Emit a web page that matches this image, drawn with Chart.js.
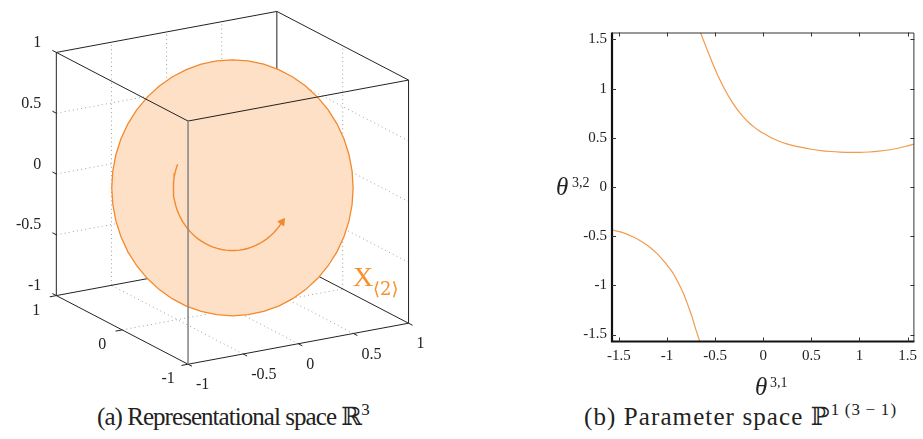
<!DOCTYPE html>
<html>
<head>
<meta charset="utf-8">
<title>Representational and parameter space</title>
<script src="https://cdn.jsdelivr.net/npm/chart.js@4.4.0/dist/chart.umd.min.js"></script>
<style>
  html, body { margin: 0; padding: 0; background: #fff; }
  #fig { position: relative; width: 923px; height: 439px; overflow: hidden;
         font-family: "Liberation Serif", "Times New Roman", Times, "DejaVu Serif", serif; color: #222; }
  #fig canvas { position: absolute; }
  #space3d { left: 0; top: 0; }
  #param { left: 540px; top: 0; }
  .txt { position: absolute; white-space: nowrap; line-height: 1; }
  .it { font-style: italic; }
  .cap { font-size: 25px; top: 404px; }
  .cap .sup { font-size: 17px; position: relative; top: -10px; }
</style>
</head>
<body>
<div id="fig">
  <canvas id="space3d" width="460" height="400"></canvas>
  <canvas id="param" width="383" height="380"></canvas>

  <!-- label of the circle in R^3 -->
  <span class="txt" style="left:353px;top:263px;font-size:28px;color:#f5902a;">X</span>
  <span class="txt" style="left:373px;top:280px;font-size:18px;color:#f5902a;font-family:'DejaVu Serif','Liberation Serif',serif;">⟨2⟩</span>

  <!-- axis titles of the parameter plot -->
  <span class="txt it" style="left:556px;top:174px;font-size:25px;">θ</span>
  <span class="txt" style="left:572px;top:176px;font-size:14px;">3,2</span>
  <span class="txt it" style="left:755px;top:374px;font-size:25px;">θ</span>
  <span class="txt" style="left:770px;top:376px;font-size:14px;">3,1</span>

  <!-- sub-figure captions -->
  <span class="txt cap" style="left:97px;letter-spacing:-0.95px;">(a) Representational space ℝ<span class="sup">3</span></span>
  <span class="txt cap" style="left:584px;letter-spacing:1.1px;">(b) Parameter space ℙ<span class="sup">1&#8201;(3&#8201;−&#8201;1)</span></span>
</div>

<script>
// ---------------------------------------------------------------
// Data
// ---------------------------------------------------------------
// (a) cube [-1,1]^3 with ticks
const xTicks3d = [-1, -0.5, 0, 0.5, 1];
const yTicks3d = [-1, 0, 1];
const zTicks3d = [-1, -0.5, 0, 0.5, 1];
const xTickLabels3d = ['-1', '-0.5', '0', '0.5', '1'];
const yTickLabels3d = ['-1', '0', '1'];
const zTickLabels3d = ['-1', '-0.5', '0', '0.5', '1'];

// the circle X<2> and the arrow showing its orientation
const discRadius = 1;
const arrowRadius = 0.49;
const arrowFromDeg = 158;
const arrowToDeg = 327;

// (b) parameter space, theta^{3,1} vs theta^{3,2}
const thetaTicks = [-1.5, -1, -0.5, 0, 0.5, 1, 1.5];
const thetaTickLabels = ['-1.5', '-1', '-0.5', '0', '0.5', '1', '1.5'];
const upperX = [-0.652, -0.60, -0.55, -0.50, -0.45, -0.40, -0.35, -0.30, -0.25, -0.20, -0.15, -0.10, -0.05,
                 0.00, 0.05, 0.10, 0.20, 0.30, 0.40, 0.50, 0.60, 0.70, 0.80, 0.90, 1.00, 1.10, 1.20, 1.30, 1.40, 1.50, 1.571];
const upperY = [ 1.571, 1.440, 1.317, 1.198, 1.091, 0.993, 0.906, 0.829, 0.763, 0.705, 0.656, 0.614, 0.578,
                 0.546, 0.519, 0.493, 0.453, 0.424, 0.402, 0.384, 0.370, 0.361, 0.355, 0.352, 0.352, 0.356, 0.364, 0.376, 0.394, 0.418, 0.437];
const lowerX = [-1.571, -1.450, -1.354, -1.260, -1.184, -1.100, -1.014, -0.940, -0.879, -0.825, -0.777, -0.740, -0.709, -0.659];
const lowerY = [-0.437, -0.466, -0.505, -0.556, -0.607, -0.680, -0.775, -0.870, -0.979, -1.090, -1.216, -1.318, -1.420, -1.571];

// ---------------------------------------------------------------
// Styling / view
// ---------------------------------------------------------------
const SERIF = '"Liberation Serif", "Times New Roman", Times, "DejaVu Serif", serif';
const INK = '#222';
const ORANGE = '#f3892c';
const DISC_FILL = '#fde0c6';
const CURVE = '#f29a4e';

const VIEW_AZ = 30.85;     // degrees, rotation of the screen-right axis
const VIEW_EL = 18.2;      // degrees, elevation of the camera
const DISC_TILT = 20;      // degrees between disc normal and viewing direction
const PX_PER_UNIT = 131.4; // orthographic scale of the cube
const ORIGIN_PX = { x: 232.5, y: 187.5 };
const TICK_LEN = 0.06;

const rad = d => d * Math.PI / 180;
const dot = (a, b) => a[0] * b[0] + a[1] * b[1] + a[2] * b[2];
const add = (a, b) => [a[0] + b[0], a[1] + b[1], a[2] + b[2]];
const mul = (a, s) => [a[0] * s, a[1] * s, a[2] * s];

const az = rad(VIEW_AZ), el = rad(VIEW_EL);
const RIGHT = [Math.cos(az), -Math.sin(az), 0];
const UP = [Math.sin(el) * Math.sin(az), Math.sin(el) * Math.cos(az), Math.cos(el)];
const TOWARD = [-Math.sin(az) * Math.cos(el), -Math.cos(az) * Math.cos(el), Math.sin(el)];

function proj(p) { return { x: dot(p, RIGHT), y: dot(p, UP) }; }
function depth(p) { return dot(p, TOWARD); }

// in-plane basis of the disc
const tilt = rad(DISC_TILT);
const E1 = add(mul(RIGHT, Math.cos(tilt)), mul(TOWARD, -Math.sin(tilt)));
const E2 = UP;
function circlePoint(r, tDeg) {
  const t = rad(tDeg);
  return add(mul(E1, r * Math.cos(t)), mul(E2, r * Math.sin(t)));
}

// back planes carry the grid
const backX = TOWARD[0] < 0 ? 1 : -1;
const backY = TOWARD[1] < 0 ? 1 : -1;
const backZ = TOWARD[2] < 0 ? 1 : -1;

// ---------------------------------------------------------------
// (a) datasets
// ---------------------------------------------------------------
const datasets3d = [];
function segment(a, b, style, order) {
  datasets3d.push(Object.assign({
    data: [proj(a), proj(b)], showLine: true, pointRadius: 0,
    borderWidth: 1, borderColor: INK, order: order
  }, style));
}

// grid on the back planes
const gridStyle = { borderColor: '#a0a0a0', borderWidth: 1, borderDash: [1, 3.2] };
const inner = arr => arr.filter(v => Math.abs(v) < 1);
inner(xTicks3d).forEach(x => {
  segment([x, backY, -1], [x, backY, 1], gridStyle, 5);
  segment([x, -1, backZ], [x, 1, backZ], gridStyle, 5);
});
inner(yTicks3d).forEach(y => {
  segment([backX, y, -1], [backX, y, 1], gridStyle, 5);
  segment([-1, y, backZ], [1, y, backZ], gridStyle, 5);
});
inner(zTicks3d).forEach(z => {
  segment([backX, -1, z], [backX, 1, z], gridStyle, 5);
  segment([-1, backY, z], [1, backY, z], gridStyle, 5);
});

// cube edges; those nearer than the disc are drawn over it
const corners = [];
[-1, 1].forEach(x => [-1, 1].forEach(y => [-1, 1].forEach(z => corners.push([x, y, z]))));
for (let i = 0; i < 8; i++) {
  for (let j = i + 1; j < 8; j++) {
    const a = corners[i], b = corners[j];
    const diff = [0, 1, 2].filter(k => a[k] !== b[k]);
    if (diff.length !== 1) continue;
    const mid = mul(add(a, b), 0.5);
    const front = depth(mid) > 0;
    const nearestVertical = diff[0] === 2 && a[0] === -backX && a[1] === -backY;
    const style = nearestVertical ? { borderColor: '#8a8a8a', borderWidth: 1.6 } : { borderColor: INK, borderWidth: 1 };
    segment(a, b, style, front ? 0 : 4);
  }
}

// tick marks
const zAxisAt = [-backX, backY];
const xAxisAt = [-backY, backZ];
const yAxisAt = [-backX, backZ];
zTicks3d.forEach(z => segment([zAxisAt[0], zAxisAt[1], z], [zAxisAt[0], zAxisAt[1] + TICK_LEN * zAxisAt[1], z], { borderColor: INK }, 0));
xTicks3d.forEach(x => segment([x, xAxisAt[0], xAxisAt[1]], [x, xAxisAt[0] * (1 + TICK_LEN), xAxisAt[1]], { borderColor: INK }, 0));
yTicks3d.forEach(y => segment([yAxisAt[0], y, yAxisAt[1]], [yAxisAt[0] * (1 + TICK_LEN), y, yAxisAt[1]], { borderColor: INK }, 0));

// the disc
const discPts = [];
for (let k = 0; k <= 48; k++) discPts.push(proj(circlePoint(discRadius, k * 360 / 48)));
datasets3d.push({
  data: discPts, showLine: true, pointRadius: 0, tension: 0,
  borderColor: ORANGE, borderWidth: 1.3, backgroundColor: DISC_FILL, fill: 'shape', order: 2
});

// orientation arrow
const arcPts = [];
const arcSteps = 40;
for (let k = 0; k <= arcSteps; k++) {
  arcPts.push(proj(circlePoint(arrowRadius, arrowFromDeg + (arrowToDeg - arrowFromDeg) * k / arcSteps)));
}
datasets3d.push({
  data: arcPts, showLine: true, pointRadius: 0, borderColor: ORANGE, borderWidth: 1.4, order: 1
});
const tip = arcPts[arcPts.length - 1];
const prev = arcPts[arcPts.length - 3];
const headAngle = Math.atan2(tip.x - prev.x, tip.y - prev.y) * 180 / Math.PI;
datasets3d.push({
  data: [tip], showLine: false, pointStyle: 'triangle', pointRadius: 4.2,
  pointRotation: headAngle, pointBackgroundColor: ORANGE, pointBorderColor: ORANGE,
  pointBorderWidth: 1, order: 1
});

// tick labels of the cube
const cubeLabels = {
  id: 'cubeLabels',
  afterDraw(chart) {
    const { ctx, scales } = chart;
    const px = p => { const q = proj(p); return { x: scales.x.getPixelForValue(q.x), y: scales.y.getPixelForValue(q.y) }; };
    ctx.save();
    ctx.font = '16px ' + SERIF;
    ctx.fillStyle = INK;
    ctx.textBaseline = 'middle';
    ctx.textAlign = 'right';
    zTicks3d.forEach((z, i) => { const p = px([zAxisAt[0], zAxisAt[1], z]); ctx.fillText(zTickLabels3d[i], p.x - 15, p.y - 9.5); });
    ctx.textAlign = 'center';
    yTicks3d.forEach((y, i) => { const p = px([yAxisAt[0], y, yAxisAt[1]]); ctx.fillText(yTickLabels3d[i], p.x - 20, p.y + 15); });
    ctx.textAlign = 'left';
    xTicks3d.forEach((x, i) => { const p = px([x, xAxisAt[0], xAxisAt[1]]); ctx.fillText(xTickLabels3d[i], p.x + 8, p.y + 21); });
    ctx.restore();
  }
};

const c3d = document.getElementById('space3d');
new Chart(c3d, {
  type: 'scatter',
  data: { datasets: datasets3d },
  options: {
    responsive: false, animation: false, events: [],
    layout: { padding: 0 },
    plugins: { legend: { display: false }, tooltip: { enabled: false } },
    scales: {
      x: { type: 'linear', display: false,
           min: -ORIGIN_PX.x / PX_PER_UNIT, max: (c3d.width - ORIGIN_PX.x) / PX_PER_UNIT },
      y: { type: 'linear', display: false,
           min: -(c3d.height - ORIGIN_PX.y) / PX_PER_UNIT, max: ORIGIN_PX.y / PX_PER_UNIT }
    }
  },
  plugins: [cubeLabels]
});

// ---------------------------------------------------------------
// (b) parameter space plot
// ---------------------------------------------------------------
const HALF_PI = Math.PI / 2;
const toPoints = (xs, ys) => xs.map((x, i) => ({ x: x, y: ys[i] }));

const frame = {
  id: 'frame',
  afterDraw(chart) {
    const { ctx, chartArea: a, scales } = chart;
    ctx.save();
    ctx.strokeStyle = '#111';
    ctx.lineWidth = 2.2;
    ctx.beginPath();
    ctx.moveTo(a.left, a.top); ctx.lineTo(a.left, a.bottom); ctx.lineTo(a.right, a.bottom);
    ctx.stroke();
    ctx.lineWidth = 1;
    ctx.strokeStyle = '#333';
    ctx.beginPath();
    ctx.moveTo(a.left, a.top + 0.5); ctx.lineTo(a.right - 0.5, a.top + 0.5); ctx.lineTo(a.right - 0.5, a.bottom);
    ctx.stroke();
    const t = 4;
    ctx.beginPath();
    thetaTicks.forEach(v => {
      const x = Math.round(scales.x.getPixelForValue(v)) + 0.5;
      const y = Math.round(scales.y.getPixelForValue(v)) + 0.5;
      ctx.moveTo(x, a.bottom); ctx.lineTo(x, a.bottom - t);
      ctx.moveTo(x, a.top); ctx.lineTo(x, a.top + t);
      ctx.moveTo(a.left, y); ctx.lineTo(a.left + t, y);
      ctx.moveTo(a.right, y); ctx.lineTo(a.right - t, y);
    });
    ctx.stroke();
    ctx.restore();
  }
};

const tickFont = { family: SERIF, size: 15 };
new Chart(document.getElementById('param'), {
  type: 'scatter',
  data: {
    datasets: [
      { data: toPoints(upperX, upperY), showLine: true, pointRadius: 0, borderColor: CURVE,
        borderWidth: 1.2, cubicInterpolationMode: 'monotone' },
      { data: toPoints(lowerX, lowerY), showLine: true, pointRadius: 0, borderColor: CURVE,
        borderWidth: 1.2, cubicInterpolationMode: 'monotone' }
    ]
  },
  options: {
    responsive: false, animation: false, events: [],
    layout: { padding: { top: 32.5, right: 2, left: 0, bottom: 0 } },
    plugins: { legend: { display: false }, tooltip: { enabled: false } },
    scales: {
      x: {
        type: 'linear', min: -HALF_PI, max: HALF_PI,
        grid: { display: false, drawTicks: false }, border: { display: false },
        afterBuildTicks: s => { s.ticks = thetaTicks.map(v => ({ value: v })); },
        afterFit: s => { s.height = 38.5; },
        ticks: { callback: (v, i) => thetaTickLabels[i], padding: 6, font: tickFont, color: INK,
                 maxRotation: 0, autoSkip: false }
      },
      y: {
        type: 'linear', min: -HALF_PI, max: HALF_PI,
        grid: { display: false, drawTicks: false }, border: { display: false },
        afterBuildTicks: s => { s.ticks = thetaTicks.map(v => ({ value: v })); },
        afterFit: s => { s.width = 72; },
        ticks: { callback: (v, i) => thetaTickLabels[i], padding: 5, font: tickFont, color: INK,
                 autoSkip: false }
      }
    }
  },
  plugins: [frame]
});
</script>
</body>
</html>
